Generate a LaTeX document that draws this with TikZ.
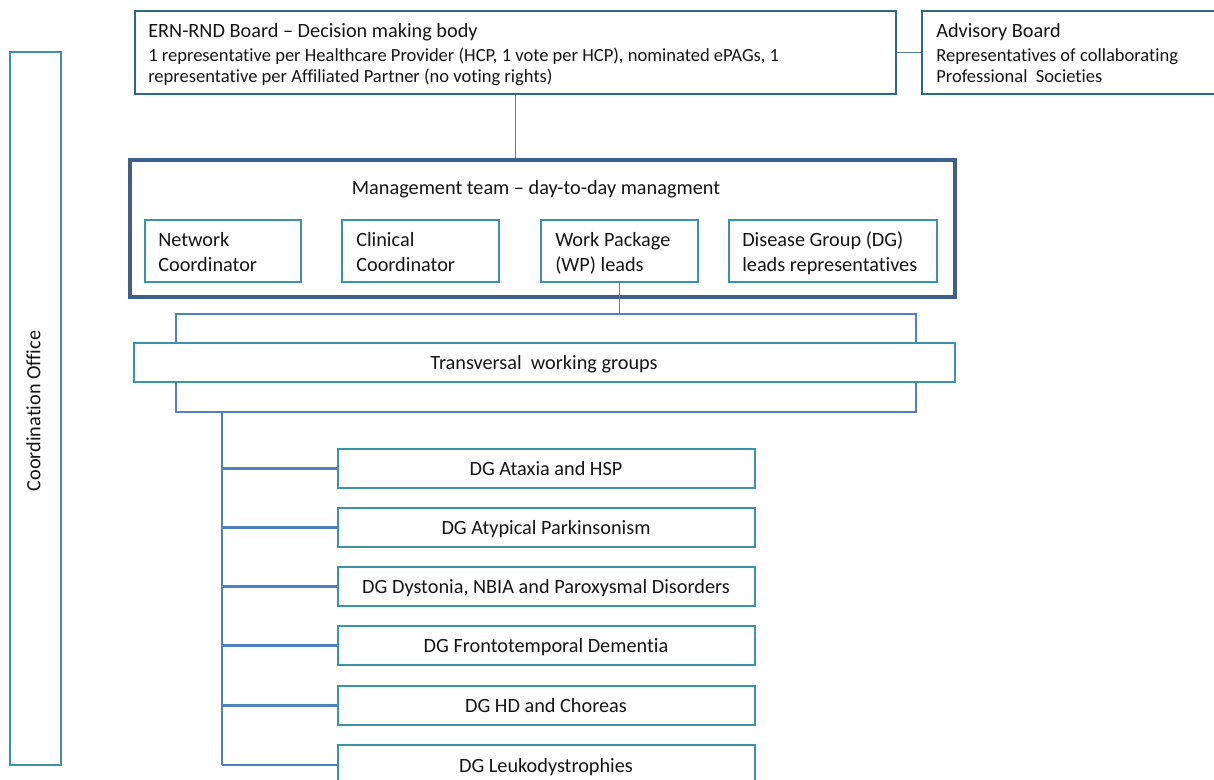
\documentclass[tikz,border=0pt]{standalone}
\usepackage{fontspec}
\setmainfont{Carlito}[Ligatures=NoCommon]
\usetikzlibrary{fit}
\definecolor{ernc}{HTML}{31687A}
\definecolor{mgmtc}{HTML}{3D5F8C}
\definecolor{innc}{HTML}{3A93AD}
\definecolor{lnc}{HTML}{4F81BD}
\definecolor{txtc}{HTML}{151515}
\begin{document}
\begin{tikzpicture}[x=0.75pt,y=-0.75pt,
  ernbox/.style={draw=ernc, line width=1.2pt, inner sep=0pt},
  mgmtbox/.style={draw=mgmtc, line width=2.6pt, inner sep=0pt},
  innbox/.style={draw=innc, line width=1.2pt, inner sep=0pt},
  ln/.style={draw=lnc, line width=1.4pt},
  txt/.style={inner sep=0pt, text=txtc, yshift=-1.5pt, text height=1.6ex, text depth=0.2ex, font=\fontsize{15.2}{18}\selectfont},
  smalltxt/.style={txt, font=\fontsize{13.9}{16}\selectfont}
]
\useasboundingbox (0,0) rectangle (1214,780);
\clip (0,0) rectangle (1214,780);

% Boards
\node[ernbox, fit={(135,11)(896,94)}] (ern) {};
\node[txt, anchor=west] (ernt1) at (148,31) {ERN-RND Board – Decision making body};
\node[smalltxt, anchor=west] (ernt2) at (148,55) {1 representative per Healthcare Provider (HCP, 1 vote per HCP), nominated ePAGs, 1};
\node[smalltxt, anchor=west] (ernt3) at (148,76) {representative per Affiliated Partner (no voting rights)};

\node[ernbox, fit={(922,11)(1222,94)}] (adv) {};
\node[txt, anchor=west] (advt1) at (936,31) {Advisory Board};
\node[smalltxt, anchor=west] (advt2) at (936,55) {Representatives of collaborating};
\node[smalltxt, anchor=west] (advt3) at (936,76) {Professional\ \ Societies};

% Management team
\node[mgmtbox, fit={(130,160)(955,297)}] (mgmt) {};
\node[txt] (mgmtt) at (536,188) {Management team – day-to-day managment};

\node[innbox, fit={(145,220)(301,282)}] (netw) {};
\node[txt, anchor=west] (netwt1) at (158,240) {Network};
\node[txt, anchor=west] (netwt2) at (158,265) {Coordinator};

\node[innbox, fit={(342,220)(499,282)}] (clin) {};
\node[txt, anchor=west] (clint1) at (356,240) {Clinical};
\node[txt, anchor=west] (clint2) at (356,265) {Coordinator};

\node[innbox, fit={(541,220)(698,282)}] (wp) {};
\node[txt, anchor=west] (wpt1) at (555,240) {Work Package};
\node[txt, anchor=west] (wpt2) at (555,265) {(WP) leads};

\node[innbox, fit={(729,220)(937,282)}] (dgl) {};
\node[txt, anchor=west] (dglt1) at (742,240) {Disease Group (DG)};
\node[txt, anchor=west] (dglt2) at (742,265) {leads representatives};

% Transversal
\node[innbox, fit={(134,343)(955,382)}] (trans) {};
\node[txt] (transt) at (544,363) {Transversal\ \ working groups};

% Coordination office
\node[innbox, fit={(10,52)(61,765)}] (coord) {};
\node[txt, rotate=90, yshift=0pt] (coordt) at (36,409) {Coordination Office};

% Disease groups
\node[innbox, fit={(338,449)(755,488)}] (dg1) {};
\node[txt] (dg1t) at (546,469) {DG Ataxia and HSP};
\node[innbox, fit={(338,508)(755,547)}] (dg2) {};
\node[txt] (dg2t) at (546,528) {DG Atypical Parkinsonism};
\node[innbox, fit={(338,567)(755,606)}] (dg3) {};
\node[txt] (dg3t) at (546,587) {DG Dystonia, NBIA and Paroxysmal Disorders};
\node[innbox, fit={(338,626)(755,665)}] (dg4) {};
\node[txt] (dg4t) at (546,646) {DG Frontotemporal Dementia};
\node[innbox, fit={(338,686)(755,725)}] (dg5) {};
\node[txt] (dg5t) at (546,706) {DG HD and Choreas};
\node[innbox, fit={(338,745)(755,785)}] (dg6) {};
\node[txt] (dg6t) at (546,766) {DG Leukodystrophies};

% Connectors
\draw[ln] (ern.east) -- (adv.west);
\draw[ln] (ern.south) -- (ern.south |- mgmt.north);

\coordinate (tl) at (176,314);
\coordinate (tr) at (916,314);
\draw[ln] (wp.south) -- (wp.south |- tl);
\draw[ln] (tl |- trans.north) -- (tl) -- (tr) -- (tr |- trans.north);

\coordinate (bl) at (176,412);
\coordinate (br) at (916,412);
\draw[ln] (bl |- trans.south) -- (bl) -- (br) -- (br |- trans.south);

\coordinate (sp) at (222,412);
\draw[ln, line width=1.6pt] (sp) -- (sp |- dg6.west);
\foreach \k in {1,...,6} {
  \draw[ln, line width=1.6pt] (sp |- dg\k.west) -- (dg\k.west);
}
\end{tikzpicture}
\end{document}
